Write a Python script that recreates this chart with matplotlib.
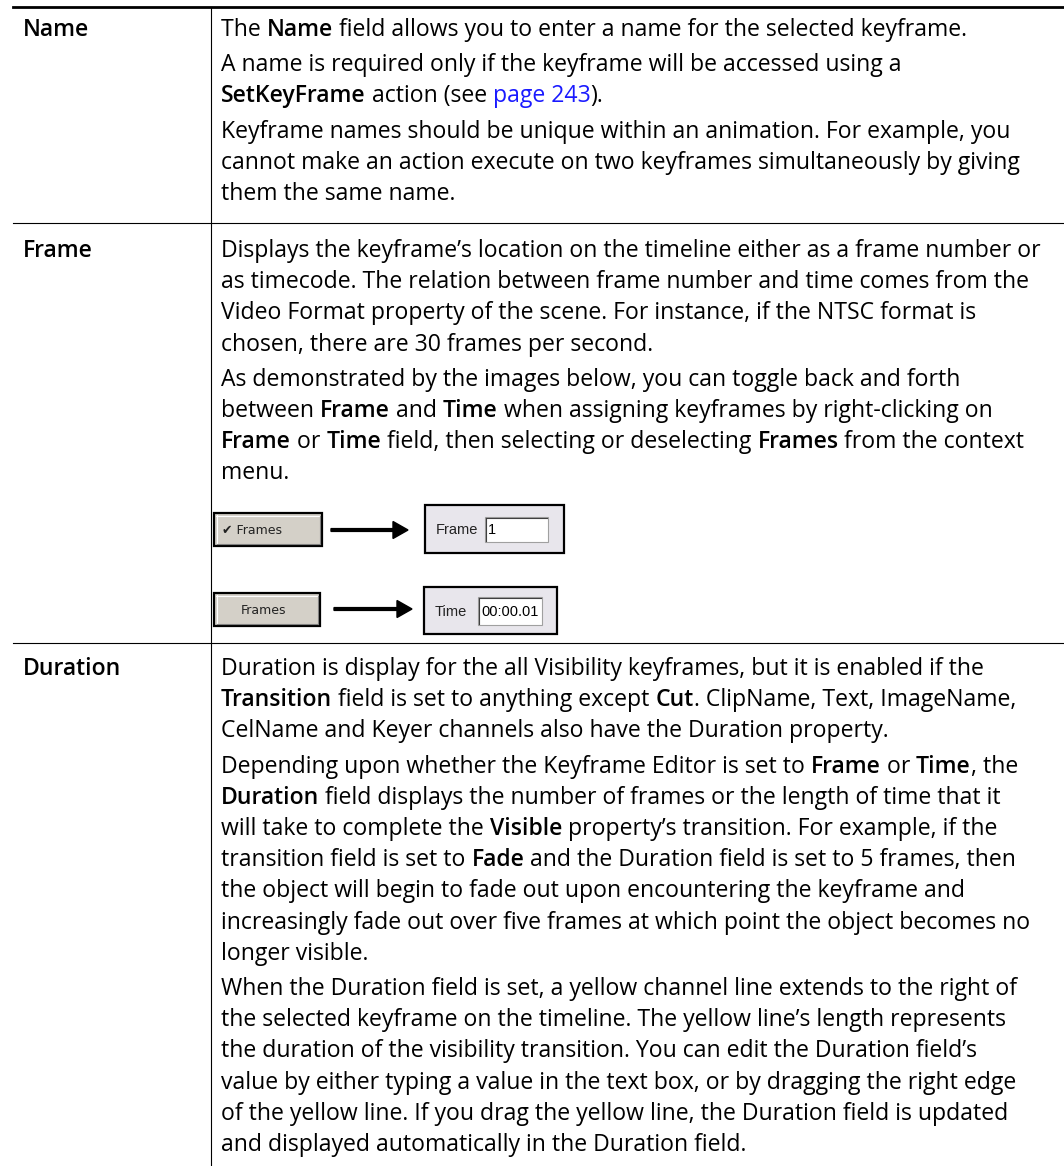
import re
import matplotlib.pyplot as plt
from matplotlib.patches import Rectangle, FancyArrow

# row labels (left column)
labels = ["Name", "Frame", "Duration"]

# right column text: each row is a list of paragraphs, each paragraph a list of lines
# **bold**, [[link]]
name_text = [
    ["The **Name** field allows you to enter a name for the selected keyframe."],
    ["A name is required only if the keyframe will be accessed using a",
     "**SetKeyFrame** action (see [[page 243]])."],
    ["Keyframe names should be unique within an animation. For example, you",
     "cannot make an action execute on two keyframes simultaneously by giving",
     "them the same name."],
]
frame_text = [
    ["Displays the keyframe\u2019s location on the timeline either as a frame number or",
     "as timecode. The relation between frame number and time comes from the",
     "Video Format property of the scene. For instance, if the NTSC format is",
     "chosen, there are 30 frames per second."],
    ["As demonstrated by the images below, you can toggle back and forth",
     "between **Frame** and **Time** when assigning keyframes by right-clicking on",
     "**Frame** or **Time** field, then selecting or deselecting **Frames** from the context",
     "menu."],
]
duration_text = [
    ["Duration is display for the all Visibility keyframes, but it is enabled if the",
     "**Transition** field is set to anything except **Cut**. ClipName, Text, ImageName,",
     "CelName and Keyer channels also have the Duration property."],
    ["Depending upon whether the Keyframe Editor is set to **Frame** or **Time**, the",
     "**Duration** field displays the number of frames or the length of time that it",
     "will take to complete the **Visible** property\u2019s transition. For example, if the",
     "transition field is set to **Fade** and the Duration field is set to 5 frames, then",
     "the object will begin to fade out upon encountering the keyframe and",
     "increasingly fade out over five frames at which point the object becomes no",
     "longer visible."],
    ["When the Duration field is set, a yellow channel line extends to the right of",
     "the selected keyframe on the timeline. The yellow line\u2019s length represents",
     "the duration of the visibility transition. You can edit the Duration field\u2019s",
     "value by either typing a value in the text box, or by dragging the right edge",
     "of the yellow line. If you drag the yellow line, the Duration field is updated",
     "and displayed automatically in the Duration field."],
]
rows = [name_text, frame_text, duration_text]

# screenshot widgets in the Frame row
button_labels = ["\u2714 Frames", "Frames"]
field_labels = ["Frame", "Time"]
field_values = ["1", "00:00.01"]

W, H = 1064, 1166
fig = plt.figure(figsize=(W / 100, H / 100), dpi=100)
ax = fig.add_axes([0, 0, 1, 1])
ax.set_xlim(0, W)
ax.set_ylim(H, 0)
ax.axis("off")
r = fig.canvas.get_renderer()

FAMILY = "Open Sans"
BOLD = "semibold"
LINK = "#1a1aff"


def text_w(s, **kw):
    t = ax.text(0, 0, s + "|", **kw)
    bar = ax.text(0, 0, "|", **kw)
    w = t.get_window_extent(r).width - bar.get_window_extent(r).width
    t.remove()
    bar.remove()
    return w


# fit the longest line to the column width seen in the reference
fs = 14 * 822 / text_w(frame_text[0][0].replace("**", ""), family=FAMILY, fontsize=14)


def draw_line(x, y, line):
    for part in re.split(r"(\*\*.+?\*\*|\[\[.+?\]\])", line):
        if not part:
            continue
        kw = dict(family=FAMILY, fontsize=fs, color="black", va="baseline")
        if part.startswith("**"):
            part = part[2:-2]
            kw["weight"] = BOLD
        elif part.startswith("[["):
            part = part[2:-2]
            kw["color"] = LINK
        ax.text(x, y, part, **kw)
        x += text_w(part, **kw)


# table rules
row_tops = [7, 223, 643]
first_offsets = [22, 27, 25]
ax.plot([13, W], [row_tops[0], row_tops[0]], color="black", lw=2.0)
for yt in row_tops[1:]:
    ax.plot([13, W], [yt, yt], color="black", lw=0.8)
ax.plot([211, 211], [row_tops[0], H], color="black", lw=0.8)

LINE = 31.2
GAP = 4
for lab, paras, top, off in zip(labels, rows, row_tops, first_offsets):
    y = top + off + 7
    ax.text(23, y, lab, family=FAMILY, fontsize=fs, weight=BOLD, va="baseline")
    for pi, para in enumerate(paras):
        if pi:
            y += GAP
        for line in para:
            draw_line(221, y, line)
            y += LINE


# widgets
def button(x0, x1, y0, y1, label, centered):
    ax.add_patch(Rectangle((x0, y0), x1 - x0, y1 - y0, facecolor="#d4d0c8",
                           edgecolor="black", lw=1.6))
    ax.plot([x0 + 2, x1 - 3], [y0 + 2.5, y0 + 2.5], color="white", lw=0.8)
    ax.plot([x0 + 2.5, x0 + 2.5], [y0 + 2, y1 - 3], color="white", lw=0.8)
    ax.plot([x0 + 3, x1 - 2.5], [y1 - 2.5, y1 - 2.5], color="#808080", lw=0.8)
    ax.plot([x1 - 2.5, x1 - 2.5], [y0 + 3, y1 - 2.5], color="#808080", lw=0.8)
    if centered:
        ax.text((x0 + x1) / 2 - 3, (y0 + y1) / 2 + 1, label, family=["DejaVu Sans"],
                fontsize=9, va="center", ha="center", color="#222222")
    else:
        ax.text(x0 + 8, (y0 + y1) / 2 + 1, label, family=["DejaVu Sans"],
                fontsize=9, va="center", ha="left", color="#222222")


def field(x0, x1, y0, y1, label, bx0, bx1, by0, by1, value):
    ax.add_patch(Rectangle((x0, y0), x1 - x0, y1 - y0, facecolor="#e8e6ec",
                           edgecolor="black", lw=1.6))
    ax.text(x0 + 11, (by0 + by1) / 2 + 1, label, family=["Liberation Sans"],
            fontsize=10.5, va="center", color="#222222")
    ax.add_patch(Rectangle((bx0, by0), bx1 - bx0, by1 - by0, facecolor="white",
                           edgecolor="#a0a0a0", lw=0.8))
    ax.plot([bx0 + 1, bx1 - 1], [by0 + 1.2, by0 + 1.2], color="#404040", lw=0.8)
    ax.plot([bx0 + 1.2, bx0 + 1.2], [by0 + 1, by1 - 1], color="#404040", lw=0.8)
    ax.text(bx0 + 3, (by0 + by1) / 2 + 1, value, family=["Liberation Sans"],
            fontsize=10.5, va="center", color="black")


def arrow(x0, x1, y):
    ax.add_patch(FancyArrow(x0, y, x1 - x0, 0, width=2.8, head_width=17,
                            head_length=15, length_includes_head=True,
                            color="black"))


button(214, 322, 513, 546, button_labels[0], centered=False)
arrow(331, 408, 530)
field(425, 564, 505, 553, field_labels[0], 485, 548, 517, 542, field_values[0])

button(214, 320, 593, 626, button_labels[1], centered=True)
arrow(334, 412, 609)
field(424, 557, 587, 634, field_labels[1], 478, 542, 597, 625, field_values[1])

fig.savefig("out.png", dpi=100)
